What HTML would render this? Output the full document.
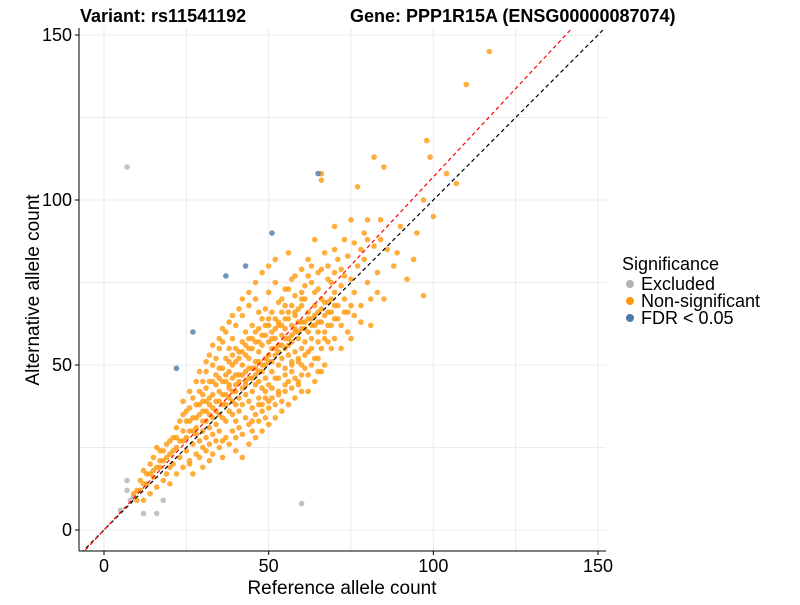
<!DOCTYPE html>
<html><head><meta charset="utf-8"><style>
body{margin:0;background:#fff;}
svg text{font-family:"Liberation Sans",Arial,sans-serif;}
</style></head><body>
<svg id="chart" width="800" height="600" xmlns="http://www.w3.org/2000/svg">
<defs><clipPath id="pc"><rect x="79" y="28" width="527" height="523"/></clipPath></defs>
<rect width="800" height="600" fill="#fff"/>
<g id="grid"></g>
<g id="pts" clip-path="url(#pc)"></g>
<g id="lines" clip-path="url(#pc)"></g>
<line x1="79" y1="28" x2="79" y2="551" stroke="#000" stroke-width="1"/>
<line x1="79" y1="551" x2="606" y2="551" stroke="#000" stroke-width="1"/>
<g id="ticks"></g>
<text x="80" y="22" font-size="18" font-weight="bold">Variant: rs11541192</text>
<text x="350" y="22" font-size="18" font-weight="bold">Gene: PPP1R15A (ENSG00000087074)</text>
<text x="342" y="594" font-size="19" text-anchor="middle">Reference allele count</text>
<text x="0" y="0" font-size="19" text-anchor="middle" transform="translate(39,290) rotate(-90)">Alternative allele count</text>
<g>
<text x="622" y="270" font-size="18">Significance</text>
<g><circle cx="630" cy="284" r="4" fill="#b3b3b3"/><text x="641" y="290" font-size="18">Excluded</text></g>
<g><circle cx="630" cy="301" r="4" fill="#ff9a0e"/><text x="641" y="307" font-size="18">Non-significant</text></g>
<g><circle cx="630" cy="318" r="4" fill="#4e79a7"/><text x="641" y="324" font-size="18">FDR &lt; 0.05</text></g>
</g>
</svg>
<script>
const xTicks=[0,50,100,150];
const yTicks=[0,50,100,150];
const gridMinor=[25,75,125];
const nsRef=[10,11,12,12,13,14,14,15,15,16,16,17,17,18,18,19,19,20,20,20,21,21,22,22,22,23,23,24,24,24,25,25,25,26,26,26,27,27,27,28,28,28,28,29,29,29,30,30,30,30,30,31,31,31,31,32,32,32,32,33,33,33,33,34,34,34,34,35,35,35,35,35,36,36,36,36,36,37,37,37,37,37,38,38,38,38,38,39,39,39,39,39,40,40,40,40,40,40,41,41,41,41,42,42,42,42,42,43,43,43,43,43,44,44,44,44,44,45,45,45,45,45,46,46,46,46,46,47,47,47,47,47,48,48,48,48,48,49,49,49,49,49,50,50,50,50,50,50,51,51,51,51,52,52,52,52,52,53,53,53,53,54,54,54,54,55,55,55,55,55,56,56,56,56,57,57,57,57,58,58,58,58,59,59,59,59,60,60,60,60,60,61,61,61,62,62,62,62,63,63,63,64,64,64,65,65,65,65,66,66,66,67,67,68,68,68,69,69,70,70,70,71,72,72,73,73,74,75,75,76,77,78,79,80,81,82,83,85,86,88,90,92,95,97,100,80,75,85,98,110,117,104,99,82,66,66,77,107,97,94,89,84,70,64];
const nsAlt=[12,15,9,18,14,11,20,16,22,13,25,19,24,15,21,17,26,19,23,14,28,20,25,17,31,22,27,19,30,35,24,28,33,21,37,30,26,34,40,23,31,38,29,27,35,42,25,33,39,45,30,28,36,43,48,31,38,45,26,34,41,50,29,36,44,52,32,39,46,55,30,42,34,41,49,57,27,38,45,52,60,33,36,43,48,55,40,35,42,50,58,46,38,44,51,62,33,47,40,47,54,36,43,50,57,65,38,41,48,53,60,45,39,46,52,58,68,42,49,55,62,37,44,51,57,47,70,40,48,54,61,45,43,50,56,64,38,46,52,59,67,42,44,51,57,62,72,39,48,55,60,66,46,53,58,64,75,50,56,62,42,52,59,66,70,49,55,61,68,44,53,58,64,73,51,57,62,48,54,60,66,77,52,58,63,45,55,61,68,72,50,57,63,70,54,60,66,82,58,64,75,52,62,68,60,66,73,48,63,70,79,58,65,62,69,76,66,55,64,72,85,68,62,74,70,88,66,76,58,72,80,68,90,75,62,86,78,70,85,80,92,76,90,100,95,94,94,110,118,135,145,108,113,113,108,106,104,105,71,82,84,94,92,88];
const nsRef2=[26,27,29,30,31,32,33,34,35,36,37,38,39,40,41,42,43,44,45,46,47,48,49,50,51,52,53,54,55,56,57,58,59,60,61,62,63,64,65,66,67,68,24,26,28,29,31,32,33,35,36,38,39,41,42,44,46,47,48,50,52,53,55,56,57,58,60,61,62,63,64,65,67,68,69,70,71,72,73,74,76,78,79,80,81,83,84,30,31,32,33,34,35,36,37,38,39,40,41,42,43,44,45,46,47,48,49,50,51,52,53,54,55,56,57,58,59,60,61,62,63,64,65,66,67,68,69,70,34,35,36,37,38,39,40,41,42,43,44,45,46,47,48,49,50,51,52,53,54,55,56,57,58,59,60,33,32,31,30,29,28,27,26,25,24,23,22,21,20,19,18,17,16,15,14,13,12,11,10,9,40,42,44,46,48,50,52,54,56,58,60,45,47,49,51,53,55,57,59,61,63,65,67,69,71,73,75,62,66,70,72,74,76,78];
const nsAlt2=[20,17,22,19,24,21,23,27,25,22,28,26,30,28,31,29,34,32,30,35,33,36,34,37,40,38,41,39,42,45,43,46,44,47,49,47,50,45,52,55,50,57,39,42,45,48,51,53,56,58,61,63,65,67,70,72,75,66,78,80,82,69,73,84,76,71,79,74,77,80,72,78,84,80,75,78,82,79,77,83,87,85,82,88,70,72,88,36,33,40,37,39,35,38,41,44,39,42,45,47,44,49,46,49,51,48,50,53,51,55,54,56,58,56,59,61,60,63,61,64,62,65,63,67,69,66,70,68,47,49,45,47,51,53,55,52,54,56,55,58,60,57,59,62,64,58,61,63,62,64,66,68,65,67,70,45,35,39,41,38,34,30,33,36,27,33,28,24,27,22,24,21,19,18,17,17,14,12,9,11,24,22,26,28,30,32,34,36,38,40,42,33,38,40,43,46,47,50,51,53,55,57,60,62,64,66,68,42,48,58,55,60,65,63];
const exRef=[7,60,7,5,8,12,16,18,7,9];
const exAlt=[110,8,15,6,9,5,5,9,12,10];
const fdrRef=[65,51,37,43,27,22];
const fdrAlt=[108,90,77,80,60,49];
const redSlope=1.07;
const X=v=>104+v*(494/150), Y=v=>530-v*(495/150);
const NS="http://www.w3.org/2000/svg";
function mk(tag,attrs,parent){const e=document.createElementNS(NS,tag);for(const k in attrs)e.setAttribute(k,attrs[k]);parent.appendChild(e);return e;}
const grid=document.getElementById('grid');
xTicks.concat(gridMinor).forEach(v=>{const l=mk('line',{x1:X(v),x2:X(v),y1:28,y2:551,stroke:'#ebebeb','stroke-width':1},grid);

});
yTicks.concat(gridMinor).forEach(v=>{const l=mk('line',{x1:79,x2:606,y1:Y(v),y2:Y(v),stroke:'#ebebeb','stroke-width':1},grid);

});
const ticks=document.getElementById('ticks');
xTicks.forEach(v=>{mk('line',{x1:X(v),x2:X(v),y1:551,y2:555,stroke:'#000'},ticks);const t=mk('text',{x:X(v),y:572,'font-size':18,'text-anchor':'middle'},ticks);t.textContent=v;

});
yTicks.forEach(v=>{mk('line',{x1:75,x2:79,y1:Y(v),y2:Y(v),stroke:'#000'},ticks);const t=mk('text',{x:72,y:Y(v)+6,'font-size':18,'text-anchor':'end'},ticks);t.textContent=v;

});
const lines=document.getElementById('lines');
const l1=mk('line',{x1:X(-10),y1:Y(-10),x2:X(160),y2:Y(160),stroke:'#000','stroke-width':1.2,'stroke-dasharray':'4,3'},lines);


const l2=mk('line',{x1:X(-10),y1:Y(-10*redSlope),x2:X(160),y2:Y(160*redSlope),stroke:'#ff0000','stroke-width':1.2,'stroke-dasharray':'4,3'},lines);


const pts=document.getElementById('pts');
function draw(xs,ys,col,name){xs.forEach((v,i)=>{const c=mk('circle',{cx:X(v),cy:Y(ys[i]),r:2.8,fill:col,'fill-opacity':0.8},pts);

});}
draw(exRef,exAlt,'#b3b3b3','excluded-point');
draw(nsRef,nsAlt,'#ff9a0e','nonsignificant-point');
draw(nsRef2,nsAlt2,'#ff9a0e','nonsignificant-point');
draw(fdrRef,fdrAlt,'#4e79a7','fdr-point');
</script>
</body></html>
